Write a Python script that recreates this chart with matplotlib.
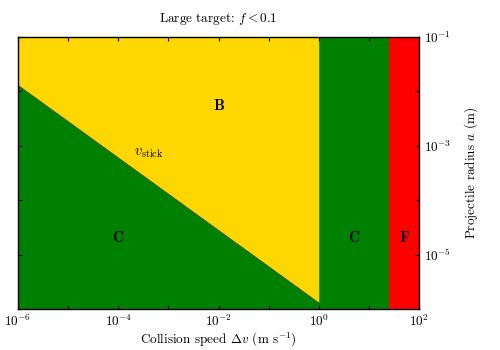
import numpy as np
import matplotlib
matplotlib.use('Agg')
import matplotlib.pyplot as plt

plt.rcParams.update({
    'font.family': 'serif',
    'font.serif': ['cmr10', 'DejaVu Serif'],
    'mathtext.fontset': 'cm',
    'axes.formatter.use_mathtext': True,
    'font.size': 9,
})

# collision speed limits (m/s) and projectile radius limits (m)
v_range = [1e-6, 1e2]
a_range = [1e-6, 1e-1]

# sticking threshold line
stick_v = [1e-6, 1.0]
stick_a = [1.3e-2, 1.3e-6]

# regime boundaries in speed
v_bounce_max = 1.0
v_frag = 25.0

# region labels: (text, v, a)
labels = [
    (r'$\mathbf{B}$', 1e-2, 5.6e-3),
    (r'$\mathbf{C}$', 1e-4, 2.1e-5),
    (r'$\mathbf{C}$', 5.0, 2.1e-5),
    (r'$\mathbf{F}$', 52.0, 2.1e-5),
]

xticks = [1e-6, 1e-5, 1e-4, 1e-3, 1e-2, 1e-1, 1e0, 1e1, 1e2]
yticks = [1e-6, 1e-5, 1e-4, 1e-3, 1e-2, 1e-1]

fig = plt.figure(figsize=(5, 3.5), dpi=100)
ax = fig.add_axes([0.036, 0.117, 0.802, 0.777])

green = '#008000'
yellow = '#FFD700'
red = '#FF0000'

ax.axvspan(v_range[0], v_frag, color=green, lw=0)
ax.axvspan(v_frag, v_range[1], color=red, lw=0)
ax.fill_between(stick_v, stick_a, [a_range[1], a_range[1]], color=yellow, lw=0)
ax.plot(stick_v, stick_a, color='#1a3a00', lw=0.5)

for txt, x, y in labels:
    ax.text(x, y, txt, ha='center', va='center', fontsize=11)
ax.text(10**-3.4, 10**-3.13, r'$v_{\rm stick}$', ha='center', va='center', fontsize=10.5)

ax.set_xscale('log')
ax.set_yscale('log')
ax.set_xlim(v_range)
ax.set_ylim(a_range)

ax.set_xticks(xticks)
ax.set_xticklabels([r'$10^{%d}$' % int(np.log10(t)) if int(round(np.log10(t))) % 2 == 0 else ''
                    for t in xticks])
ax.set_yticks(yticks)
ax.set_yticklabels([r'$10^{%d}$' % int(round(np.log10(t))) if int(round(np.log10(t))) % 2 != 0 else ''
                    for t in yticks])
ax.minorticks_off()
ax.tick_params(which='both', direction='in', top=True, right=True, left=True, bottom=True,
               labelleft=False, labelright=True, length=3, width=0.8, labelsize=9.5)
ax.yaxis.set_label_position('right')

ax.set_xlabel(r'Collision speed $\Delta v$ (m s$^{-1}$)', labelpad=1, fontsize=9.5)
ax.set_ylabel(r'Projectile radius $a$ (m)', labelpad=8, fontsize=9.5)
ax.set_title(r'Large target: $f < 0.1$', fontsize=9.5, pad=11)

for s in ax.spines.values():
    s.set_linewidth(1.0)

fig.savefig('out.png', dpi=100)
